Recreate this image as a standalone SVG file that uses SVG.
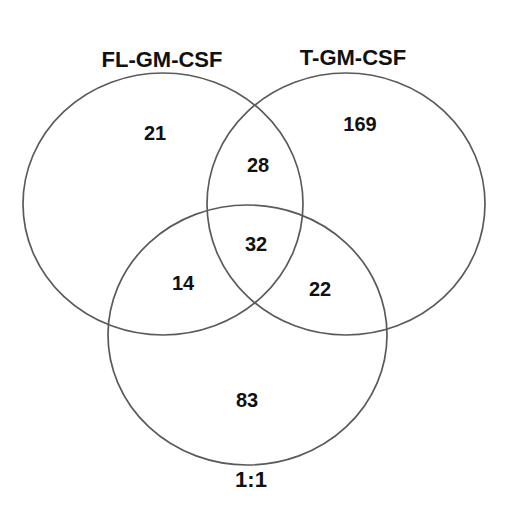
<svg xmlns="http://www.w3.org/2000/svg" width="520" height="518" viewBox="0 0 520 518">
<style>
.c{fill:none;stroke:#5a5a5a;stroke-width:1.7}
.t{font-family:"Liberation Sans",Arial,sans-serif;font-weight:bold;fill:#111;text-anchor:middle}
.l{font-size:22px}
.n{font-size:20px}
</style>
<rect width="520" height="518" fill="#fff"/>
<g id="set-fl">
<ellipse class="c" cx="163" cy="204" rx="140" ry="131"/>
<text class="t l" x="162" y="67">FL-GM-CSF</text>
</g>
<g id="set-t">
<ellipse class="c" cx="346" cy="204" rx="139" ry="131"/>
<text class="t l" x="353" y="65">T-GM-CSF</text>
</g>
<g id="set-11">
<ellipse class="c" cx="247.5" cy="335" rx="139.5" ry="130"/>
<text class="t l" x="251" y="487">1:1</text>
</g>
<g id="counts">
<text class="t n" x="155" y="140">21</text>
<text class="t n" x="360" y="131">169</text>
<text class="t n" x="258" y="172">28</text>
<text class="t n" x="256" y="251">32</text>
<text class="t n" x="183" y="290">14</text>
<text class="t n" x="320" y="296">22</text>
<text class="t n" x="247" y="407">83</text>
</g>
</svg>
